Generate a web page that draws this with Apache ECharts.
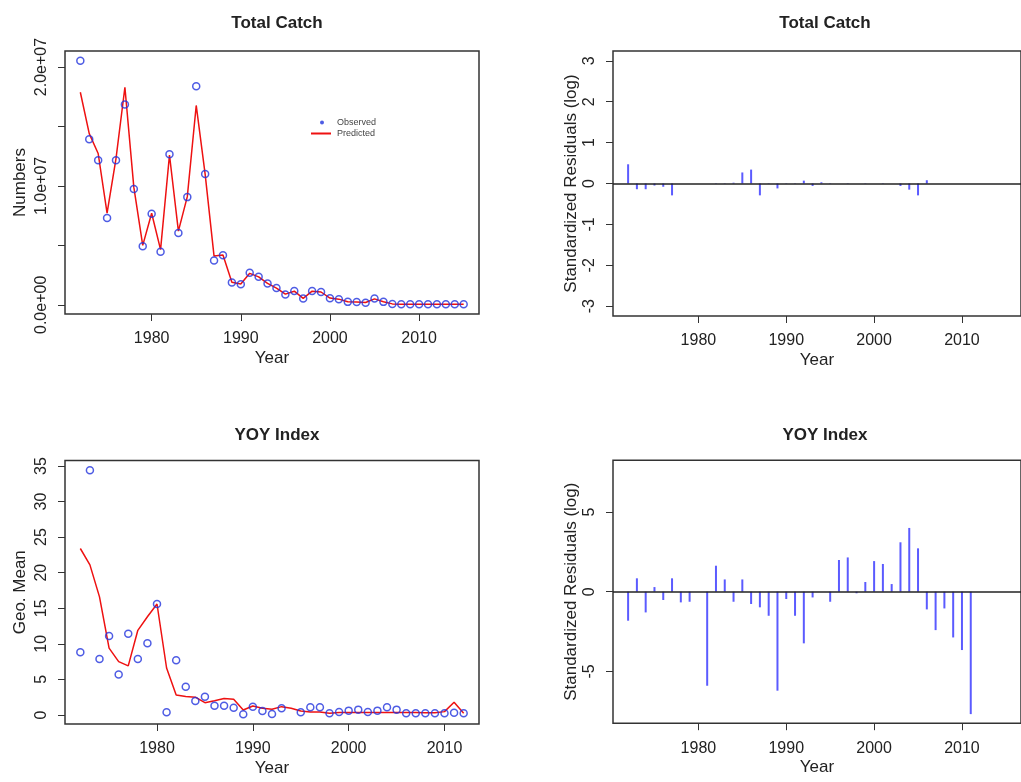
<!DOCTYPE html>
<html>
<head>
<meta charset="utf-8">
<script src="https://cdn.jsdelivr.net/npm/echarts@6/dist/echarts.min.js"></script>
<style>
  html, body { margin: 0; padding: 0; background: #fff; }
  #chart { width: 1021px; height: 782px; }
</style>
</head>
<body>
<div id="chart"></div>
<script>
// ---- data ----
const catchYears = [1972, 1973, 1974, 1975, 1976, 1977, 1978, 1979, 1980, 1981,
  1982, 1983, 1984, 1985, 1986, 1987, 1988, 1989, 1990, 1991,
  1992, 1993, 1994, 1995, 1996, 1997, 1998, 1999, 2000, 2001,
  2002, 2003, 2004, 2005, 2006, 2007, 2008, 2009, 2010, 2011,
  2012, 2013, 2014, 2015]
const catchObserved = [20530000, 13930000, 12170000, 7300000, 12170000, 16850000, 9750000, 4930000, 7660000, 4460000,
  12670000, 6050000, 9060000, 18380000, 11000000, 3730000, 4180000, 1870000, 1730000, 2700000,
  2370000, 1790000, 1420000, 870000, 1170000, 530000, 1170000, 1090000, 560000, 480000,
  250000, 230000, 180000, 530000, 250000, 70000, 50000, 50000, 50000, 50000,
  50000, 50000, 50000, 50000]
const catchPredicted = [17880000, 14400000, 12730000, 7720000, 12300000, 18300000, 9900000, 5000000, 7700000, 4650000,
  12600000, 6200000, 9100000, 16770000, 11000000, 4100000, 4200000, 1900000, 1750000, 2650000,
  2350000, 1800000, 1400000, 900000, 1150000, 550000, 1150000, 1080000, 570000, 480000,
  260000, 230000, 200000, 500000, 260000, 80000, 50000, 50000, 50000, 50000,
  50000, 50000, 50000, 50000]
const catchResiduals = [0.47, -0.14, -0.14, -0.05, -0.08, -0.29, 0, 0, 0, 0,
  -0.01, 0.01, 0.02, 0.27, 0.34, -0.29, 0.01, -0.12, 0.01, 0.01,
  0.07, -0.06, 0.03, 0.01, 0, 0.01, 0, 0.01, 0, 0.01,
  0, -0.06, -0.15, -0.29, 0.08, 0, 0, 0, 0, 0,
  0, 0, 0, 0]

const yoyYears = [1972, 1973, 1974, 1975, 1976, 1977, 1978, 1979, 1980, 1981,
  1982, 1983, 1984, 1985, 1986, 1987, 1988, 1989, 1990, 1991,
  1992, 1993, 1994, 1995, 1996, 1997, 1998, 1999, 2000, 2001,
  2002, 2003, 2004, 2005, 2006, 2007, 2008, 2009, 2010, 2011,
  2012]
const yoyObserved = [8.8, 34.4, 7.87, 11.1, 5.7, 11.4, 7.87, 10.07, 15.6, 0.37,
  7.7, 3.97, 1.97, 2.57, 1.31, 1.31, 1.03, 0.1, 1.17, 0.56,
  0.14, 0.94, null, 0.37, 1.08, 1.08, 0.23, 0.42, 0.61, 0.75,
  0.42, 0.61, 1.08, 0.75, 0.23, 0.23, 0.23, 0.23, 0.23, 0.3,
  0.23]
const yoyPredicted = [23.4, 21.1, 16.6, 9.4, 7.5, 6.9, 11.9, 13.8, 15.6, 6.6,
  2.8, 2.6, 2.5, 1.73, 2.0, 2.3, 2.2, 0.7, 1.26, 0.94,
  0.8, 1.17, 0.94, 0.56, 0.42, 0.42, 0.23, 0.35, 0.35, 0.35,
  0.35, 0.35, 0.35, 0.35, 0.35, 0.35, 0.3, 0.3, 0.47, 1.78,
  0.23]
const yoyResiduals = [-1.82, 0.84, -1.30, 0.29, -0.52, 0.84, -0.67, -0.63, 0, -5.9,
  1.63, 0.77, -0.63, 0.77, -0.77, -0.98, -1.51, -6.21, -0.46, -1.51,
  -3.24, -0.36, null, -0.63, 1.99, 2.15, -0.1, 0.61, 1.92, 1.74,
  0.48, 3.10, 4.0, 2.72, -1.11, -2.41, -1.05, -2.87, -3.66, -7.68,
  0]

const yearTicks = [1980, 1990, 2000, 2010]
const catchTicks = [0, 5000000, 10000000, 15000000, 20000000]
const catchLabels = [0, 10000000, 20000000]
const catchResidTicks = [-3, -2, -1, 0, 1, 2, 3]
const yoyTicks = [0, 5, 10, 15, 20, 25, 30, 35]
const yoyResidTicks = [-5, 0, 5]

// ---- helpers ----
const font = '"Liberation Sans", Arial, sans-serif'
const ink = '#222'
const blue = '#2233dd'
const red = '#ee1111'
const pairs = (xs, ys) => xs.map((x, i) => [x, ys[i] == null ? '-' : ys[i]])

// R style scientific label: 2.0e+07
function sci(v) {
  const [m, e] = v.toExponential(1).split('e')
  const n = Math.abs(parseInt(e, 10))
  return m + 'e' + (e[0] === '-' ? '-' : '+') + (n < 10 ? '0' + n : n)
}

function xAxisFor(gi, min, max) {
  return {
    type: 'value', gridIndex: gi, min: min, max: max,
    name: 'Year', nameLocation: 'middle', nameGap: 36,
    nameTextStyle: { fontSize: 17, color: ink, fontFamily: font },
    axisLine: { show: false, onZero: false },
    axisTick: { show: true, length: 7, customValues: yearTicks, lineStyle: { color: '#333', width: 1 } },
    axisLabel: {
      customValues: yearTicks, margin: 17, fontSize: 16, color: ink, fontFamily: font,
      formatter: v => String(v)
    },
    splitLine: { show: false }
  }
}

function yAxisFor(gi, min, max, name, gap, ticks, labels, fmt) {
  return {
    type: 'value', gridIndex: gi, min: min, max: max,
    name: name, nameLocation: 'middle', nameGap: gap, nameRotate: 90,
    nameTextStyle: { fontSize: 17, color: ink, fontFamily: font },
    axisLine: { show: false, onZero: false },
    axisTick: { show: true, length: 7, customValues: ticks, lineStyle: { color: '#333', width: 1 } },
    axisLabel: {
      customValues: labels, rotate: 90, margin: 15, fontSize: 16, color: ink, fontFamily: font,
      formatter: fmt || (v => String(v))
    },
    splitLine: { show: false }
  }
}

const frame = { show: true, borderColor: '#333', borderWidth: 1.5, backgroundColor: 'transparent' }
const zeroLine = {
  silent: true, symbol: 'none', label: { show: false },
  lineStyle: { color: '#222', width: 1.5, type: 'solid' },
  data: [{ yAxis: 0 }]
}
const titleStyle = { fontSize: 17, fontWeight: 'bold', color: ink, fontFamily: font }
const openCircle = { color: 'rgba(0,0,0,0)', borderColor: blue, borderWidth: 1.5 }

const chart = echarts.init(document.getElementById('chart'))
chart.setOption({
  animation: false,
  backgroundColor: '#fff',
  title: [
    { text: 'Total Catch', left: 272, top: 10, textAlign: 'center', textStyle: titleStyle },
    { text: 'Total Catch', left: 820, top: 10, textAlign: 'center', textStyle: titleStyle },
    { text: 'YOY Index', left: 272, top: 422, textAlign: 'center', textStyle: titleStyle },
    { text: 'YOY Index', left: 820, top: 422, textAlign: 'center', textStyle: titleStyle }
  ],
  legend: [
    {
      data: [{ name: 'Observed', icon: 'circle', itemStyle: { color: blue, borderWidth: 0 } }],
      left: 315, top: 113, itemWidth: 4, itemHeight: 4, selectedMode: false,
      textStyle: { fontSize: 9, color: '#444', fontFamily: font, padding: [0, 0, 0, 8] }
    },
    {
      data: [{ name: 'Predicted', icon: 'rect', itemStyle: { color: red, borderWidth: 0 } }],
      left: 306, top: 124, itemWidth: 20, itemHeight: 2, selectedMode: false,
      textStyle: { fontSize: 9, color: '#444', fontFamily: font, padding: [0, 0, 0, 1] }
    }
  ],
  grid: [
    Object.assign({ left: 65, top: 51, width: 414, height: 263 }, frame),
    Object.assign({ left: 613, top: 51, width: 414, height: 265 }, frame),
    Object.assign({ left: 65, top: 460.5, width: 414, height: 263.5 }, frame),
    Object.assign({ left: 613, top: 460.2, width: 414, height: 263 }, frame)
  ],
  xAxis: [
    xAxisFor(0, 1970.28, 2016.72),
    xAxisFor(1, 1970.28, 2016.72),
    xAxisFor(2, 1970.4, 2013.6),
    xAxisFor(3, 1970.28, 2016.72)
  ],
  yAxis: [
    yAxisFor(0, -770000, 21350000, 'Numbers', 36, catchTicks, catchLabels, sci),
    yAxisFor(1, -3.24, 3.24, 'Standardized Residuals (log)', 33, catchResidTicks, catchResidTicks),
    yAxisFor(2, -1.27, 35.77, 'Geo. Mean', 36, yoyTicks, yoyTicks),
    yAxisFor(3, -8.25, 8.25, 'Standardized Residuals (log)', 33, yoyResidTicks, yoyResidTicks)
  ],
  series: [
    {
      name: 'Observed', type: 'scatter', xAxisIndex: 0, yAxisIndex: 0,
      symbol: 'circle', symbolSize: 7, itemStyle: openCircle,
      data: pairs(catchYears, catchObserved), z: 3
    },
    {
      name: 'Predicted', type: 'line', xAxisIndex: 0, yAxisIndex: 0,
      symbol: 'none', lineStyle: { color: red, width: 1.5 }, itemStyle: { color: red },
      data: pairs(catchYears, catchPredicted), z: 2
    },
    {
      name: 'Catch residuals', type: 'bar', xAxisIndex: 1, yAxisIndex: 1,
      barWidth: 2, itemStyle: { color: '#5b5bff' },
      data: pairs(catchYears, catchResiduals), markLine: zeroLine
    },
    {
      name: 'YOY observed', type: 'scatter', xAxisIndex: 2, yAxisIndex: 2,
      symbol: 'circle', symbolSize: 7, itemStyle: openCircle,
      data: pairs(yoyYears, yoyObserved), z: 3
    },
    {
      name: 'YOY predicted', type: 'line', xAxisIndex: 2, yAxisIndex: 2,
      symbol: 'none', lineStyle: { color: red, width: 1.5 },
      data: pairs(yoyYears, yoyPredicted), z: 2
    },
    {
      name: 'YOY residuals', type: 'bar', xAxisIndex: 3, yAxisIndex: 3,
      barWidth: 2, itemStyle: { color: '#5b5bff' },
      data: pairs(yoyYears, yoyResiduals), markLine: zeroLine
    }
  ]
})
</script>
</body>
</html>
